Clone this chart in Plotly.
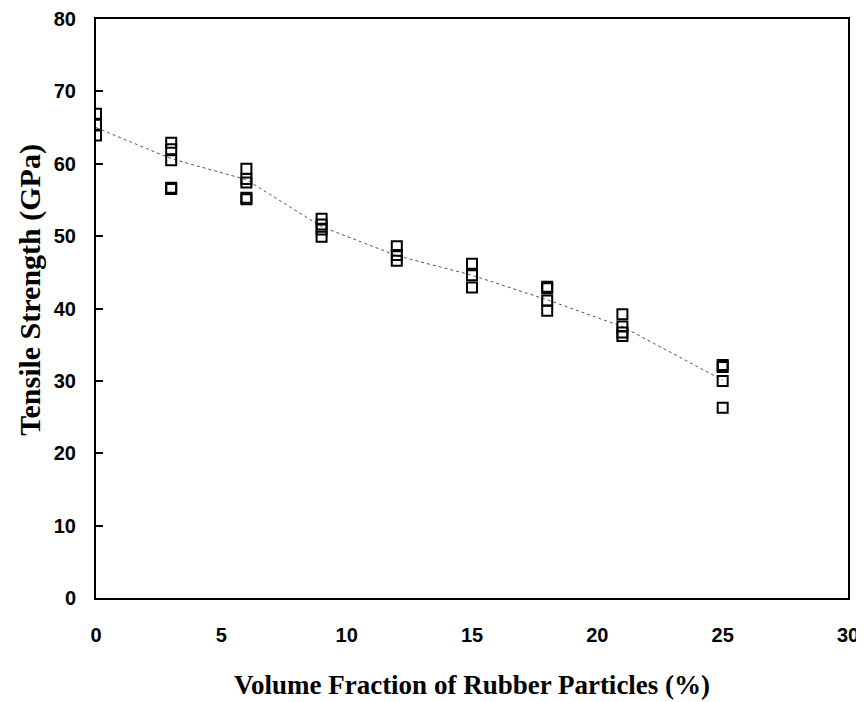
import plotly.graph_objects as go

# Measured tensile strength (GPa) at each volume fraction (%)
fractions = [0, 3, 6, 9, 12, 15, 18, 21, 25]
measurements = [
    [66.9, 65.4, 63.9],
    [62.9, 62.0, 60.5, 56.7, 56.5],
    [59.3, 57.9, 57.4, 55.3, 55.1],
    [52.4, 51.6, 50.9, 49.9],
    [48.6, 47.4, 46.6],
    [46.2, 44.6, 42.9],
    [43.0, 42.8, 41.1, 39.7],
    [39.2, 37.5, 36.7, 36.2],
    [32.2, 31.9, 30.0, 26.3],
]
# Trend line values (mean strength)
trend = [65.0, 60.7, 57.8, 51.3, 47.3, 44.6, 41.2, 37.5, 30.1]

x_ticks = [0, 5, 10, 15, 20, 25, 30]
y_ticks = [0, 10, 20, 30, 40, 50, 60, 70, 80]

pts_x, pts_y = [], []
for xv, vals in zip(fractions, measurements):
    for v in vals:
        pts_x.append(xv)
        pts_y.append(v)

fig = go.Figure()
fig.add_trace(go.Scatter(
    x=fractions, y=trend, mode="lines",
    line=dict(color="#555555", width=1, dash="dot"),
    showlegend=False, hoverinfo="skip",
))
fig.add_trace(go.Scatter(
    x=pts_x, y=pts_y, mode="markers",
    marker=dict(symbol="square-open", size=10, color="black",
                line=dict(color="black", width=2)),
    showlegend=False,
))

axis_font = dict(family="Liberation Sans, Arial", size=20, color="black", weight="bold")
xtitle_font = dict(family="Liberation Serif, Times New Roman", size=27, color="black")
ytitle_font = dict(family="Liberation Serif, Times New Roman", size=30, color="black")

# The page body adds an 8px offset, so the figure is sized to fit the window.
fig.update_layout(
    width=856, height=694,
    paper_bgcolor="white", plot_bgcolor="white",
    margin=dict(l=88, r=16, t=11, b=104, autoexpand=False),
    xaxis=dict(
        range=[0, 30], tickvals=x_ticks, showgrid=False, zeroline=False,
        showline=True, linecolor="black", linewidth=2, mirror=True,
        ticks="", tickfont=axis_font, ticklabelstandoff=18, automargin=False,
        title=dict(text="<b>Volume Fraction of Rubber Particles (%)</b>",
                   font=xtitle_font, standoff=30),
    ),
    yaxis=dict(
        range=[0, 80], tickvals=y_ticks, showgrid=False, zeroline=False,
        showline=True, linecolor="black", linewidth=2, mirror=True,
        ticks="inside", ticklen=7, tickwidth=2, tickcolor="black",
        tickfont=axis_font, ticklabelstandoff=14, automargin=False,
    ),
    annotations=[dict(
        text="<b>Tensile Strength (GPa)</b>", textangle=-90,
        xref="paper", yref="paper", x=-0.088, y=0.532,
        xanchor="center", yanchor="middle", showarrow=False,
        font=ytitle_font,
    )],
)

fig.write_html("out.html")
